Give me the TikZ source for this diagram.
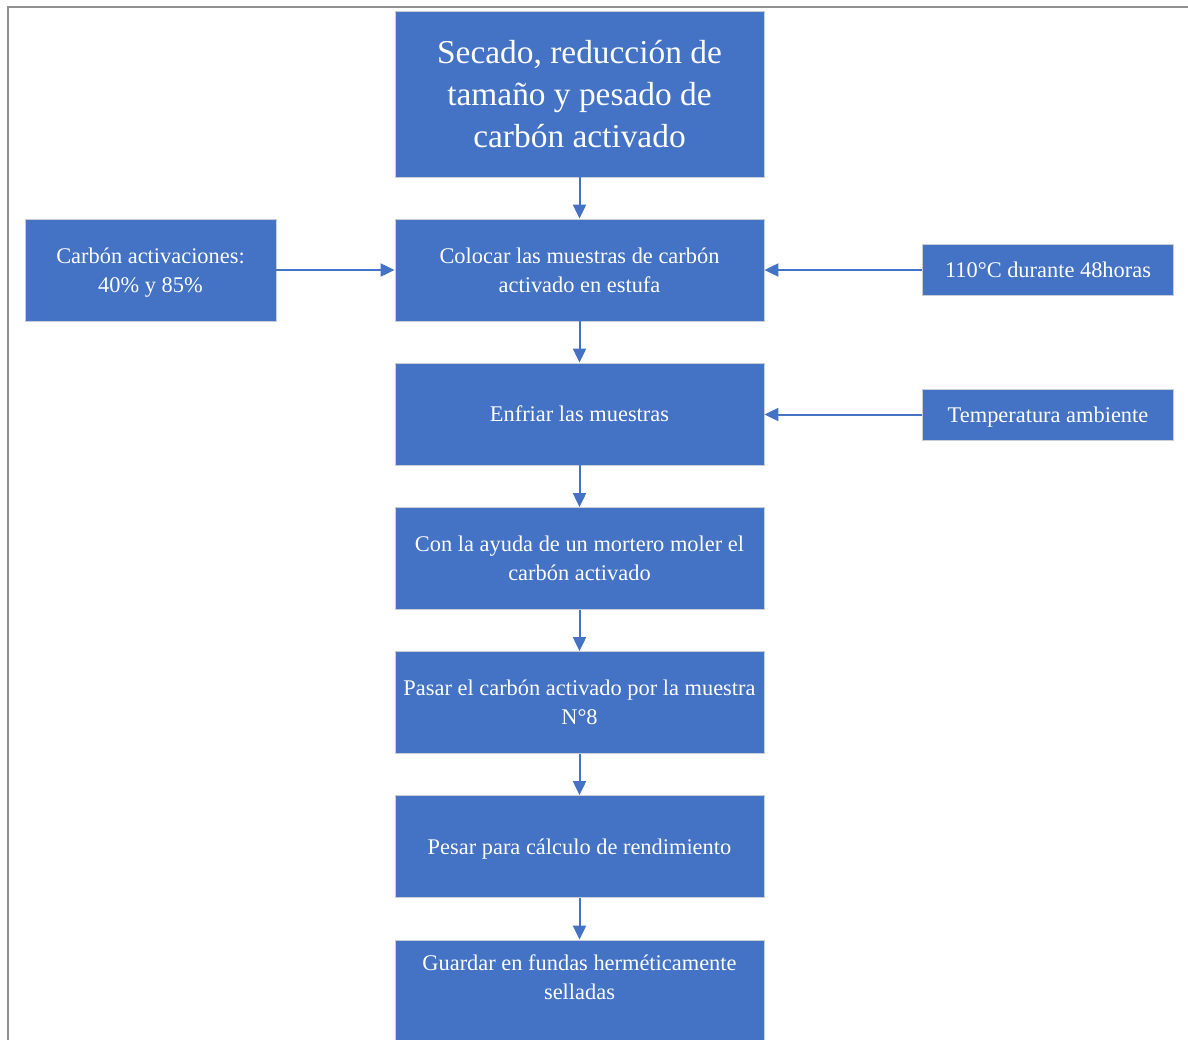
\documentclass[tikz,border=0pt]{standalone}
\usepackage{fontspec}
\setmainfont{Liberation Serif}
\usetikzlibrary{arrows.meta}
\definecolor{boxblue}{HTML}{4472C4}
\definecolor{framegray}{HTML}{8F8F8F}
\definecolor{boxedge}{HTML}{C9CDD6}
% line struts so every box centres its text block the same way
\newcommand\linestrut{\rule[-5.5pt]{0pt}{26.5pt}}
\newcommand\headstrut{\rule[-8.2pt]{0pt}{39.2pt}}

\begin{document}
\begin{tikzpicture}[x=1pt,y=-1pt,
  stepbox/.style={draw=boxedge, line width=0.8pt, fill=boxblue, text=white,
    align=center, inner sep=0pt, font=\fontsize{22.4}{29}\selectfont},
  bigbox/.style={stepbox, font=\fontsize{33.4}{42.2}\selectfont},
  flow/.style={draw=boxblue, line width=2pt, -{Triangle[length=14pt,width=13pt]}}]
\useasboundingbox (0,0) rectangle (1188,1040);
\begin{scope}
\clip (0,0) rectangle (1188,1040);
% page frame
\draw[framegray, line width=1.4pt] (8,1100) -- (8,7) -- (1200,7) -- (1200,1100);

% main column
\node[bigbox, minimum width=369pt, minimum height=166pt] (secado) at (579.5,94)
  {\headstrut Secado, reducción de\\\headstrut tamaño y pesado de\\\headstrut carbón activado};
\node[stepbox, minimum width=369pt, minimum height=102pt] (colocar) at (579.5,270)
  {\linestrut Colocar las muestras de carbón\\\linestrut activado en estufa};
\node[stepbox, minimum width=369pt, minimum height=102pt] (enfriar) at (579.5,414)
  {\linestrut Enfriar las muestras};
\node[stepbox, minimum width=369pt, minimum height=102pt] (moler) at (579.5,558.5)
  {\linestrut Con la ayuda de un mortero moler el\\\linestrut carbón activado};
\node[stepbox, minimum width=369pt, minimum height=102pt] (pasar) at (579.5,702.5)
  {\linestrut Pasar el carbón activado por la muestra\\\linestrut N°8};
\node[stepbox, minimum width=369pt, minimum height=102pt] (pesar) at (579.5,846.5)
  {\linestrut Pesar para cálculo de rendimiento};
\node[stepbox, minimum width=369pt, minimum height=120pt] (guardar) at (579.5,1000)
  {\linestrut Guardar en fundas herméticamente\\\rule{0pt}{21pt}selladas\rule[-51pt]{0pt}{51pt}};

% side inputs
\node[stepbox, minimum width=251pt, minimum height=102pt] (carbon) at (150.5,270)
  {\linestrut Carbón activaciones:\\\linestrut 40\% y 85\%};
\node[stepbox, minimum width=251pt, minimum height=51pt] (temp) at (1048,270)
  {\linestrut 110°C durante 48horas};
\node[stepbox, minimum width=251pt, minimum height=51pt] (amb) at (1048,414.5)
  {\linestrut Temperatura ambiente};

% connectors
\draw[flow] (secado) -- (colocar);
\draw[flow] (colocar) -- (enfriar);
\draw[flow] (enfriar) -- (moler);
\draw[flow] (moler) -- (pasar);
\draw[flow] (pasar) -- (pesar);
\draw[flow] (pesar) -- (guardar);
\draw[flow] (carbon) -- (colocar);
\draw[flow] (temp) -- (colocar);
\draw[flow] (amb) -- (enfriar.east |- amb);
\end{scope}
\end{tikzpicture}
\end{document}
